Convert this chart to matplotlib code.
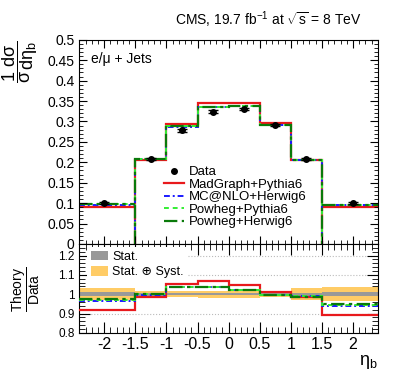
import numpy as np
import matplotlib
matplotlib.use('Agg')
import matplotlib.pyplot as plt
from matplotlib.ticker import MultipleLocator, FuncFormatter

plt.rcParams['font.family'] = ['Liberation Sans', 'DejaVu Sans']
plt.rcParams['mathtext.fontset'] = 'custom'
plt.rcParams['mathtext.rm'] = 'Liberation Sans'
plt.rcParams['mathtext.it'] = 'Liberation Sans'
plt.rcParams['mathtext.bf'] = 'Liberation Sans:bold'

# bin edges in eta_b
edges = [-2.4, -1.5, -1.0, -0.5, 0.0, 0.5, 1.0, 1.5, 2.4]
centers = [-2.0, -1.25, -0.75, -0.25, 0.25, 0.75, 1.25, 2.0]

data = [0.100, 0.208, 0.278, 0.324, 0.330, 0.292, 0.208, 0.101]
data_err = [0.002, 0.002, 0.004, 0.004, 0.003, 0.002, 0.002, 0.002]

madgraph = [0.0916, 0.2045, 0.2927, 0.3455, 0.3450, 0.2953, 0.2049, 0.0903]
mcatnlo = [0.0963, 0.2076, 0.2877, 0.3357, 0.3373, 0.2905, 0.2059, 0.0946]
powheg_py = [0.0972, 0.2080, 0.2883, 0.3363, 0.3379, 0.2911, 0.2059, 0.0954]
powheg_hw = [0.0975, 0.2084, 0.2880, 0.3360, 0.3376, 0.2908, 0.2055, 0.0960]

# relative uncertainties of the data
stat_rel = [0.009, 0.007, 0.006, 0.006, 0.006, 0.006, 0.007, 0.009]
tot_rel = [0.031, 0.019, 0.016, 0.018, 0.020, 0.013, 0.032, 0.036]

models = [
    ('MadGraph+Pythia6', madgraph, '#e8191c', '-', 1.6),
    ('MC@NLO+Herwig6', mcatnlo, '#1a1aff', (0, (3, 1.5, 1, 1.5)), 1.4),
    ('Powheg+Pythia6', powheg_py, '#33ee33', (0, (2.5, 2)), 1.4),
    ('Powheg+Herwig6', powheg_hw, '#0a7a0a', (0, (6, 2, 1.5, 2)), 1.6),
]

fig = plt.figure(figsize=(3.99, 3.83), dpi=100)
ax = fig.add_axes([0.199, 0.363, 0.748, 0.533])
rax = fig.add_axes([0.199, 0.131, 0.748, 0.232])

d = np.array(data)
for name, vals, col, ls, lw in models:
    v = np.array(vals)
    ax.stairs(v[1:-1], edges[1:-1], baseline=0, color=col, ls=ls, lw=lw, label=name)
    ax.stairs(v[:1], edges[:2], baseline=None, color=col, ls=ls, lw=lw)
    ax.stairs(v[-1:], edges[-2:], baseline=None, color=col, ls=ls, lw=lw)

ax.errorbar(centers, data, yerr=data_err, fmt='none', ecolor='k', elinewidth=1.0,
            capsize=3.5, capthick=1.0, zorder=5)
ax.plot(centers, data, 'o', color='k', ms=4, label='Data', zorder=6)

ax.set_xlim(-2.4, 2.4)
ax.set_ylim(0, 0.5)
ax.yaxis.set_major_locator(MultipleLocator(0.05))
ax.yaxis.set_minor_locator(MultipleLocator(0.01))
ax.xaxis.set_major_locator(MultipleLocator(0.5))
ax.xaxis.set_minor_locator(MultipleLocator(0.1))
ax.yaxis.set_major_formatter(FuncFormatter(lambda v, p: '%g' % round(v, 3)))
ax.tick_params(which='both', direction='in', top=True, right=True, labelsize=10)
ax.tick_params(which='major', length=6)
ax.tick_params(which='minor', length=3)
ax.tick_params(axis='x', labelbottom=False)

h, l = ax.get_legend_handles_labels()
order = [4, 0, 1, 2, 3]
ax.legend([h[i] for i in order], [l[i] for i in order], loc='upper left',
          bbox_to_anchor=(164 / 399, 1 - 166 / 383), bbox_transform=fig.transFigure,
          frameon=False, fontsize=9.5, borderpad=0, borderaxespad=0,
          handlelength=1.5, handletextpad=0.35, labelspacing=0.02)

ax.text(0.04, 0.905, 'e/\u03bc + Jets', transform=ax.transAxes, fontsize=10,
        ha='left', va='center')
fig.text(362 / 399, 1 - 20 / 383, 'CMS, 19.7 fb$^{-1}$ at $\\sqrt{s}$ = 8 TeV',
         fontsize=10, ha='right', va='center')
fig.text(20 / 399, 1 - 40 / 383, r'$\dfrac{1}{\sigma}\dfrac{d\sigma}{d\eta_{b}}$',
         rotation=90, fontsize=13, ha='center', va='top')

# ratio panel
one = np.ones(len(data))
tot = np.array(tot_rel)
st = np.array(stat_rel)
rax.stairs(one + tot, edges, baseline=one - tot, fill=True, color='#ffcc66',
           label='Stat. \u2295 Syst.', zorder=1)
rax.stairs(one + st, edges, baseline=one - st, fill=True, color='#999999',
           label='Stat.', zorder=2)
for name, vals, col, ls, lw in models:
    rax.stairs(np.array(vals) / d, edges, baseline=None, color=col, ls=ls, lw=lw, zorder=3)

rax.set_xlim(-2.4, 2.4)
rax.set_ylim(0.8, 1.26)
rax.yaxis.set_major_locator(MultipleLocator(0.1))
rax.yaxis.set_minor_locator(MultipleLocator(0.02))
rax.xaxis.set_major_locator(MultipleLocator(0.5))
rax.xaxis.set_minor_locator(MultipleLocator(0.1))
rax.yaxis.set_major_formatter(FuncFormatter(lambda v, p: '%g' % round(v, 3)))
rax.xaxis.set_major_formatter(FuncFormatter(lambda v, p: '%g' % round(v, 3)))
rax.set_axisbelow(True)
rax.grid(axis='y', which='major', ls=':', color='#bbbbbb', lw=0.8)
rax.tick_params(which='both', direction='in', top=True, right=True)
rax.tick_params(which='major', length=8)
rax.tick_params(which='minor', length=4)
rax.tick_params(axis='y', labelsize=8.5)
rax.tick_params(axis='x', labelsize=11.5, pad=3)

rh, rl = rax.get_legend_handles_labels()
leg = rax.legend([rh[1], rh[0]], [rl[1], rl[0]], loc='upper left',
                 bbox_to_anchor=(87 / 399, 1 - 247 / 383), bbox_transform=fig.transFigure,
                 frameon=True, fancybox=False, edgecolor='none', facecolor='white',
                 framealpha=1, fontsize=9, borderpad=0.3, borderaxespad=0,
                 handlelength=1.4, handleheight=0.8, handletextpad=0.3, labelspacing=0.25)

fig.text(26 / 399, 1 - 289 / 383, r'$\dfrac{\mathrm{Theory}}{\mathrm{Data}}$',
         rotation=90, fontsize=10, ha='center', va='center')
fig.text(378 / 399, 1 - 362 / 383, r'$\eta_{b}$', fontsize=13, ha='right', va='center')

fig.savefig('out.png', dpi=100)
